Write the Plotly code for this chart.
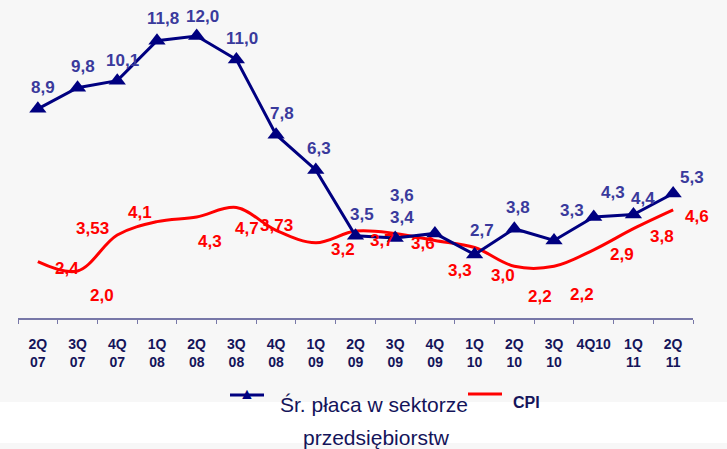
import plotly.graph_objects as go

# quarters on the x axis
quarters = ["2Q<br>07", "3Q<br>07", "4Q<br>07", "1Q<br>08", "2Q<br>08", "3Q<br>08",
            "4Q<br>08", "1Q<br>09", "2Q<br>09", "3Q<br>09", "4Q<br>09", "1Q<br>10",
            "2Q<br>10", "3Q<br>10", "4Q10", "1Q<br>11", "2Q<br>11"]

# average wage in the enterprise sector, y/y %
wages = [8.9, 9.8, 10.1, 11.8, 12.0, 11.0, 7.8, 6.3, 3.5, 3.4, 3.6, 2.7, 3.8, 3.3, 4.3, 4.4, 5.3]
# CPI, y/y %
cpi = [2.4, 2.0, 3.53, 4.1, 4.3, 4.7, 3.73, 3.2, 3.7, 3.6, 3.3, 3.0, 2.2, 2.2, 2.9, 3.8, 4.6]

wage_name = "Śr. płaca w sektorze"
wage_name2 = "przedsiębiorstw"
cpi_name = "CPI"

# label offsets in pixels (dx right, dy down)
wage_dx = [5, 5, 5, 6, 6, 6, 6, 3, 6, 7, -33, 7, 4, 18, 19, 10, 19]
wage_dy = [-21, -21, -20, -22, -20, -21, -21, -21, -21, -21, -38, -24, -21, -30, -24, -16, -16]
cpi_dx = [29, 24, -25, -17, 13, 11, 0, 27, 26, 28, 25, 28, 26, 28, 28, 29, 24]
cpi_dy = [7, 24, -7, -9, 25, 21, -5, 7, 9, 10, 30, 28, 30, 28, 5, 8, 7]

NAVY = "#000080"
LABEL_NAVY = "#3a3a9c"
TEXT_NAVY = "#14145a"
RED = "#ff0000"
BG = "#f7f7f7"

W, H = 727, 449
ML, MR, MT, MB = 18, 34, 0, 131
PW, PH = W - ML - MR, H - MT - MB


def px(x):
    return (x - ML) / PW


def py(y):
    return (MT + PH - y) / PH


def fmt(v):
    s = f"{v:.2f}"
    if s.endswith("0"):
        s = s[:-1]
    return s.replace(".", ",")


fig = go.Figure()

fig.add_trace(go.Scatter(
    x=quarters, y=cpi, mode="lines",
    line=dict(color=RED, width=3, shape="spline"),
    showlegend=False, cliponaxis=False, hoverinfo="skip",
))
fig.add_trace(go.Scatter(
    x=quarters, y=wages, mode="lines+markers",
    line=dict(color=NAVY, width=3),
    marker=dict(symbol="triangle-up", size=15, color=NAVY),
    showlegend=False, cliponaxis=False, hoverinfo="skip",
))

annotations = []
for q, v, dx, dy in zip(quarters, wages, wage_dx, wage_dy):
    annotations.append(dict(
        x=q, y=v, xref="x", yref="y", text=fmt(v), showarrow=False,
        xshift=dx, yshift=-dy,
        font=dict(family="Arial", size=17, color=LABEL_NAVY, weight="bold"),
    ))
for q, v, dx, dy in zip(quarters, cpi, cpi_dx, cpi_dy):
    annotations.append(dict(
        x=q, y=v, xref="x", yref="y", text=fmt(v), showarrow=False,
        xshift=dx, yshift=-dy,
        font=dict(family="Arial", size=17, color=RED, weight="bold"),
    ))


def legend_text(x, y, text, size, bold=False, color=TEXT_NAVY):
    return dict(x=px(x), y=py(y), xref="paper", yref="paper", text=text, showarrow=False,
                xanchor="center", yanchor="middle",
                font=dict(family="Arial", size=size, color=color,
                          weight="bold" if bold else "normal"))


# hand-made legend
annotations += [
    legend_text(247, 393, "▲", 16, color=NAVY),
    legend_text(374, 404, wage_name, 21),
    legend_text(377, 437, wage_name2, 21),
    legend_text(526, 402, cpi_name, 16, bold=True),
]

shapes = [
    dict(type="rect", xref="paper", yref="paper", x0=px(0), x1=px(W), y0=py(402), y1=py(443),
         fillcolor="white", line_width=0, layer="below"),
    dict(type="line", xref="paper", yref="paper", x0=px(230), x1=px(264), y0=py(395), y1=py(395),
         line=dict(color=NAVY, width=3)),
    dict(type="line", xref="paper", yref="paper", x0=px(468), x1=px(502), y0=py(394), y1=py(394),
         line=dict(color=RED, width=3)),
]

fig.update_layout(
    width=W, height=H,
    margin=dict(l=ML, r=MR, t=MT, b=MB, autoexpand=False),
    paper_bgcolor=BG, plot_bgcolor=BG,
    font=dict(family="Arial"),
    annotations=annotations, shapes=shapes,
    hovermode=False,
    xaxis=dict(
        type="category", range=[-0.5, len(quarters) - 0.5],
        tickson="boundaries", ticks="outside", ticklen=4,
        tickcolor="#7878a8", showline=True, linecolor="#7878a8", linewidth=1.5,
        showgrid=False, zeroline=False, ticklabelstandoff=12, tickangle=0,
        automargin=False,
        tickfont=dict(family="Arial", size=14, color=TEXT_NAVY, weight="bold"),
    ),
    yaxis=dict(visible=False, range=[0, PH / 23.5], showgrid=False, zeroline=False,
               automargin=False),
)

fig.write_html("out.html", config={"displayModeBar": False},
               post_script="document.body.style.margin='0';")
